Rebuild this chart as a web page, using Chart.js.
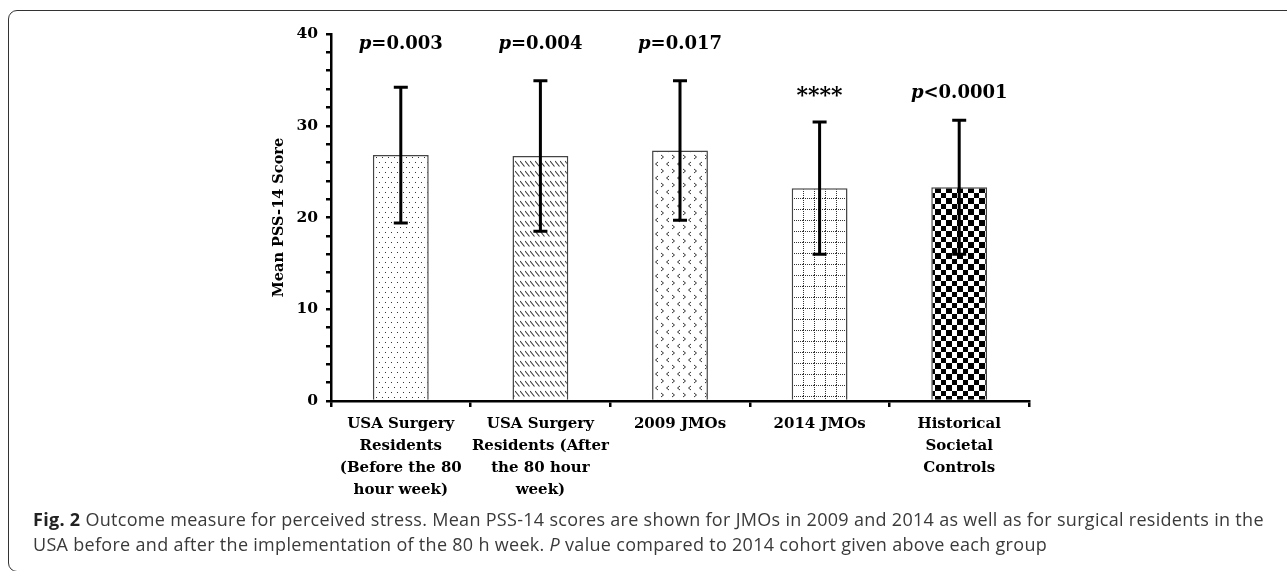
<!DOCTYPE html>
<html>
<head>
<meta charset="utf-8">
<script src="https://cdn.jsdelivr.net/npm/chart.js@4.4.1/dist/chart.umd.min.js"></script>
<style>
  html, body { margin: 0; padding: 0; background: #fff; }
  body { width: 1287px; height: 571px; position: relative; overflow: hidden; }
  #frame {
    position: absolute; left: 8px; top: 10px; width: 1320px; height: 560px;
    border: 1.5px solid #333; border-radius: 9px;
  }
  #chart { position: absolute; left: 0; top: 0; }
  #caption {
    position: absolute; left: 33px; top: 507px; white-space: nowrap;
    font-family: "Open Sans", sans-serif; font-size: 18px; line-height: 25px;
    letter-spacing: 0.3px; color: #3a3a3a;
  }
  #caption b { color: #222; }
</style>
</head>
<body>
<div id="frame"></div>
<canvas id="chart" width="1287" height="571"></canvas>
<div id="caption"><b>Fig. 2</b> Outcome measure for perceived stress. Mean PSS-14 scores are shown for JMOs in 2009 and 2014 as well as for surgical residents in the<br>USA before and after the implementation of the 80 h week. <i>P</i> value compared to 2014 cohort given above each group</div>
<script>
// Data
const groups = [
  ['USA Surgery', 'Residents', '(Before the 80', 'hour week)'],
  ['USA Surgery', 'Residents (After', 'the 80 hour', 'week)'],
  '2009 JMOs',
  '2014 JMOs',
  ['Historical', 'Societal', 'Controls']
];
const meanScores = [26.8, 26.7, 27.3, 23.2, 23.3];
const sdScores = [7.4, 8.2, 7.6, 7.2, 7.3];
const pLabels = ['p=0.003', 'p=0.004', 'p=0.017', '****', 'p<0.0001'];
const pLabelLevels = [38.9, 38.9, 38.9, 33.7, 33.5];

const serif = '"DejaVu Serif", serif';

// Hatch fills for each bar
function makePattern(w, h, draw) {
  const c = document.createElement('canvas');
  c.width = w;
  c.height = h;
  const g = c.getContext('2d');
  g.fillStyle = '#fff';
  g.fillRect(0, 0, w, h);
  g.fillStyle = '#333';
  g.strokeStyle = '#333';
  draw(g);
  return g.createPattern(c, 'repeat');
}

const patterns = [
  // fine dots
  makePattern(6, 10, g => {
    g.fillRect(1, 2, 1, 1);
    g.fillRect(4, 7, 1, 1);
  }),
  // rows of short backslashes
  makePattern(5, 10, g => {
    g.lineWidth = 1.1;
    g.beginPath();
    g.moveTo(0, 1);
    g.lineTo(4.5, 6.5);
    g.stroke();
  }),
  // > < chevrons
  makePattern(11, 14, g => {
    g.lineWidth = 1;
    g.beginPath();
    g.moveTo(1, 1); g.lineTo(3.5, 3); g.lineTo(1, 5);
    g.moveTo(9, 8); g.lineTo(6.5, 10); g.lineTo(9, 12);
    g.stroke();
  }),
  // dotted grid
  makePattern(11, 11, g => {
    for (let i = 0; i < 11; i += 2) {
      g.fillRect(i, 0, 1, 1);
      g.fillRect(0, i, 1, 1);
    }
  }),
  // checkerboard
  makePattern(11, 11, g => {
    g.fillStyle = '#000';
    g.fillRect(0, 0, 6, 6);
    g.fillRect(6, 6, 5, 5);
  })
];

// Error bars (mean +/- SD) with caps
const errorBars = {
  id: 'errorBars',
  afterDatasetsDraw(chart) {
    const ctx = chart.ctx;
    const y = chart.scales.y;
    const meta = chart.getDatasetMeta(0);
    ctx.save();
    ctx.strokeStyle = '#000';
    ctx.lineWidth = 3;
    meta.data.forEach((bar, i) => {
      const top = y.getPixelForValue(meanScores[i] + sdScores[i]);
      const bottom = y.getPixelForValue(meanScores[i] - sdScores[i]);
      ctx.beginPath();
      ctx.moveTo(bar.x, top);
      ctx.lineTo(bar.x, bottom);
      ctx.moveTo(bar.x - 7, top);
      ctx.lineTo(bar.x + 7, top);
      ctx.moveTo(bar.x - 7, bottom);
      ctx.lineTo(bar.x + 7, bottom);
      ctx.stroke();
    });
    ctx.restore();
  }
};

// p value labels above each group, with an italic p
const pValueLabels = {
  id: 'pValueLabels',
  afterDatasetsDraw(chart) {
    const ctx = chart.ctx;
    const y = chart.scales.y;
    const meta = chart.getDatasetMeta(0);
    ctx.save();
    ctx.fillStyle = '#000';
    ctx.textBaseline = 'middle';
    ctx.textAlign = 'left';
    meta.data.forEach((bar, i) => {
      const txt = pLabels[i];
      const yy = y.getPixelForValue(pLabelLevels[i]);
      if (!txt.startsWith('p')) {
        // asterisks are drawn larger, as in the figure
        ctx.font = 'bold 22px ' + serif;
        ctx.textAlign = 'center';
        ctx.fillText(txt, bar.x, yy + 4);
        ctx.textAlign = 'left';
        return;
      }
      const rest = txt.slice(1);
      ctx.font = 'italic bold 18px ' + serif;
      const w1 = ctx.measureText('p').width;
      ctx.font = 'bold 18px ' + serif;
      const w2 = ctx.measureText(rest).width;
      const x0 = bar.x - (w1 + w2) / 2;
      ctx.font = 'italic bold 18px ' + serif;
      ctx.fillText('p', x0, yy);
      ctx.font = 'bold 18px ' + serif;
      ctx.fillText(rest, x0 + w1, yy);
    });
    ctx.restore();
  }
};

new Chart(document.getElementById('chart'), {
  type: 'bar',
  data: {
    labels: groups,
    datasets: [{
      data: meanScores,
      backgroundColor: patterns,
      borderColor: '#444',
      borderWidth: 1.5,
      categoryPercentage: 1,
      barPercentage: 0.4
    }]
  },
  options: {
    responsive: false,
    animation: false,
    devicePixelRatio: 1,
    layout: {
      padding: { left: 271, right: 258, top: 34, bottom: 0 }
    },
    plugins: {
      legend: { display: false },
      tooltip: { enabled: false }
    },
    scales: {
      x: {
        afterFit: s => { s.height = 170; },
        grid: {
          offset: true,
          drawOnChartArea: false,
          tickLength: 6,
          tickColor: '#000',
          lineWidth: 2.5
        },
        border: { display: true, color: '#000', width: 2.5 },
        ticks: {
          autoSkip: false,
          maxRotation: 0,
          minRotation: 0,
          padding: 6,
          color: '#000',
          font: { family: serif, weight: 'bold', size: 15, lineHeight: '22px' }
        }
      },
      y: {
        min: 0,
        max: 40,
        afterFit: s => { s.width = 60; },
        grid: {
          drawOnChartArea: false,
          tickLength: 5,
          tickColor: '#000',
          lineWidth: 2.5
        },
        border: { display: true, color: '#000', width: 2.5 },
        ticks: {
          stepSize: 2,
          autoSkip: false,
          padding: 8,
          color: '#000',
          font: { family: serif, weight: 'bold', size: 15.5 },
          callback: v => (v % 10 === 0 ? v : '')
        },
        title: {
          display: true,
          text: 'Mean PSS-14 Score',
          color: '#000',
          padding: { top: 0, bottom: 0 },
          font: { family: serif, weight: 'bold', size: 14.5 }
        }
      }
    }
  },
  plugins: [errorBars, pValueLabels]
});
</script>
</body>
</html>
